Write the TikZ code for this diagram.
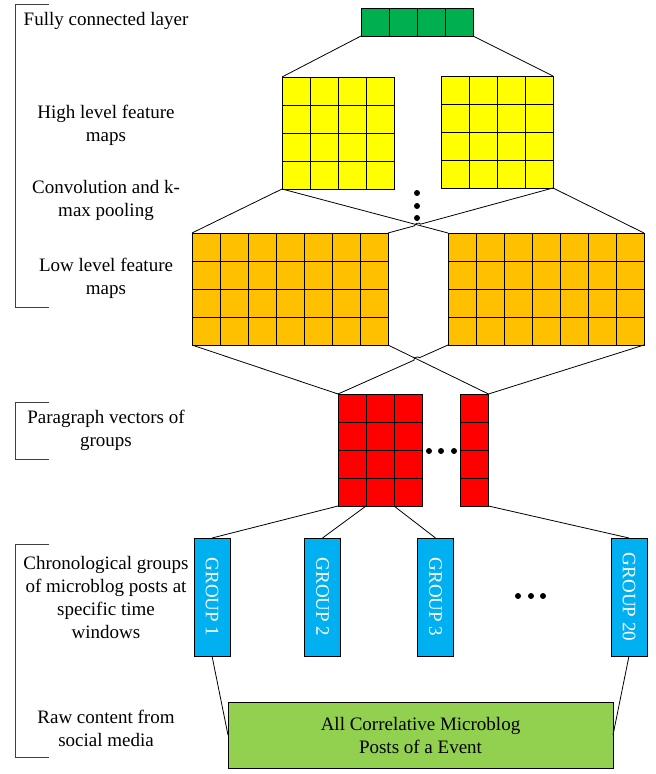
\documentclass[tikz,border=0pt]{standalone}
\usepackage{fontspec}
\setmainfont{Liberation Serif}
\usetikzlibrary{calc}

\definecolor{fcgreen}{HTML}{00B050}
\definecolor{hiyellow}{HTML}{FFFF00}
\definecolor{loorange}{HTML}{FFC000}
\definecolor{pvred}{HTML}{FF0000}
\definecolor{grpblue}{HTML}{00B0F0}
\definecolor{rawgreen}{HTML}{92D050}

\begin{document}
\begin{tikzpicture}
[x=1pt, y=-1pt, line width=0.8pt,
 block/.style 2 args={draw, inner sep=0pt, outer sep=0pt, minimum width=#1*28pt, minimum height=#2*28pt},
 grp/.style={draw, fill=grpblue, inner sep=0pt, outer sep=0pt, minimum width=36pt, minimum height=118pt, text=white},
 lbl/.style={align=center, font=\fontsize{19}{23}\selectfont},
 brk/.style={draw=black!75, line width=1pt}]

\useasboundingbox (0,0) rectangle (656,774);

% feature blocks
\node[block={4}{1}, fill=fcgreen] (fc) at (417,22) {};
\node[block={4}{4}, fill=hiyellow] (hl) at (338,133) {};
\node[block={4}{4}, fill=hiyellow] (hr) at (497,132) {};
\node[block={7}{4}, fill=loorange] (ll) at (290,289) {};
\node[block={7}{4}, fill=loorange] (lr) at (546,289) {};
\node[block={3}{4}, fill=pvred] (pl) at (380,450) {};
\node[block={1}{4}, fill=pvred] (pr) at (474.5,450) {};

% cells
\foreach \b/\c/\r in {fc/4/1, hl/4/4, hr/4/4, ll/7/4, lr/7/4, pl/3/4, pr/1/4}{
  \foreach \k in {0,...,\c}
    \draw ($(\b.north west)+(28*\k,0)$) -- ($(\b.south west)+(28*\k,0)$);
  \foreach \k in {0,...,\r}
    \draw ($(\b.north west)+(0,28*\k)$) -- ($(\b.north east)+(0,28*\k)$);
}

% groups
\node[grp] (g1) at (212,597) {\rotatebox{-90}{\fontsize{19}{23}\selectfont GROUP 1}};
\node[grp] (g2) at (322.5,597) {\rotatebox{-90}{\fontsize{19}{23}\selectfont GROUP 2}};
\node[grp] (g3) at (435.5,597) {\rotatebox{-90}{\fontsize{19}{23}\selectfont GROUP 3}};
\node[grp] (g20) at (629,597) {\rotatebox{-90}{\fontsize{19}{23}\selectfont GROUP 20}};

\node[draw, fill=rawgreen, minimum width=385pt, minimum height=66pt, inner sep=0pt, outer sep=0pt, lbl] (raw) at (420.5,735)
  {All Correlative Microblog\\Posts of a Event};

% dots
\foreach \y in {193,206,218} \fill (417,\y) circle (3);
\foreach \x in {429,441,454} \fill (\x,451) circle (3);
\foreach \x in {518,531,543} \fill (\x,596) circle (3);

% connectors
\draw (fc.south west) -- (hl.north west);
\draw (fc.south east) -- (hr.north east);
\draw (hl.south west) -- (ll.north west);
\draw (hr.south east) -- (lr.north east);
\draw (hl.south west) -- (lr.north west);
\coordinate (x1) at (intersection of hl.south west--lr.north west and ll.north east--hr.south east);
\draw (ll.north east) -- ($(x1)!3pt!(ll.north east)$) to[bend left=90] ($(x1)!3pt!(hr.south east)$) -- (hr.south east);

\draw (ll.south west) -- (pl.north west);
\draw (lr.south east) -- (pr.north east);
\draw (ll.south east) -- (pr.north east);
\coordinate (x2) at (intersection of ll.south east--pr.north east and lr.south west--pl.north west);
\draw (lr.south west) -- ($(x2)!3pt!(lr.south west)$) to[bend right=90] ($(x2)!3pt!(pl.north west)$) -- (pl.north west);

\draw (pl.south west) -- (g1.north);
\draw ($(pl.south west)+(28,0)$) -- (g2.north);
\draw ($(pl.south west)+(56,0)$) -- (g3.north);
\draw (pr.south east) -- (g20.north);
\draw (g1.south) -- (raw.west);
\draw (g20.south) -- (raw.east);

% labels
\node[lbl] (fcl) at (106,21) {Fully connected layer};
\node[lbl] (hll) at (106,125) {High level feature\\maps};
\node[lbl] (cvl) at (106,200.5) {Convolution and k-\\max pooling};
\node[lbl] (lll) at (106,278.5) {Low level feature\\maps};
\node[lbl] (pvl) at (106,430.5) {Paragraph vectors of\\groups};
\node[lbl] (cgl) at (106,597.5) {Chronological groups\\of microblog posts at\\specific time\\windows};
\node[lbl] (rcl) at (106,728) {Raw content from\\social media};

% brackets
\draw[brk] (49,4) -- (15,4) -- (15,307) -- (49,307);
\draw[brk] (49,402) -- (15,402) -- (15,459) -- (49,459);
\draw[brk] (49,544) -- (15,544) -- (15,757) -- (49,757);
\end{tikzpicture}
\end{document}
